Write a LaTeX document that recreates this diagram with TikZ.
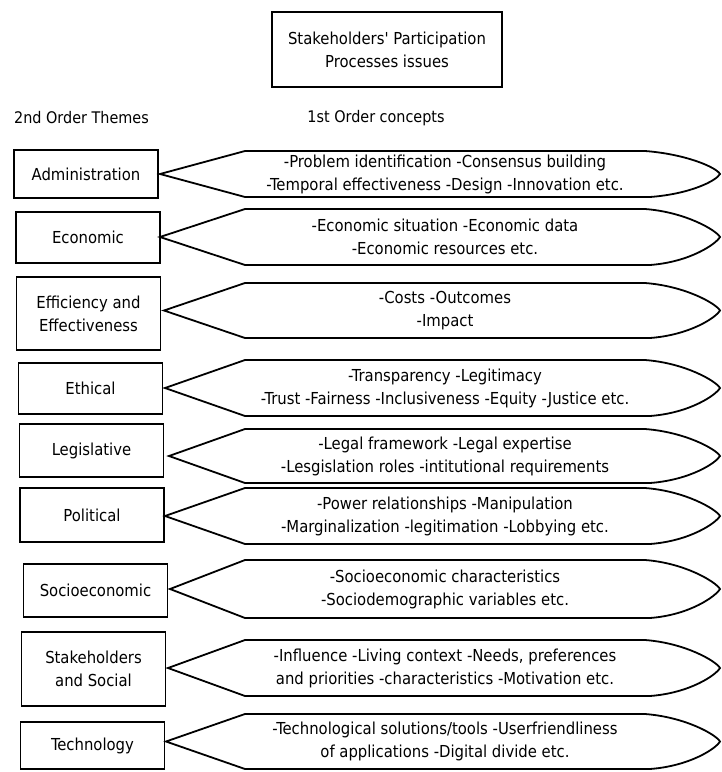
\documentclass[tikz,border=0pt]{standalone}
\usepackage{fontspec}
\setmainfont{DejaVu Sans Condensed}
\usepackage{tikz}

\tikzset{
  themebox/.style={draw, fill=white, rectangle, line width=1.8pt, minimum width=144pt, minimum height=51pt, align=center, inner sep=2pt, font=\fontsize{16.5pt}{23pt}\selectfont},
  conceptline/.style={draw, fill=white, line width=1.8pt, line join=miter},
  concepttext/.style={align=center, inner sep=0pt, font=\fontsize{16.5pt}{23pt}\selectfont},
  plainlabel/.style={inner sep=0pt, font=\fontsize{16pt}{16pt}\selectfont}
}
% #1 node name, #2 tip x, #3 top y, #4 bottom y, #5 text
\newcommand{\conceptshape}[5]{%
  \draw[conceptline] (#2,{(#3+#4)/2}) -- (245,#3) -- (645,#3)
    .. controls (685,#3+3) and (716,{(#3+#4)/2-7}) .. (720,{(#3+#4)/2})
    .. controls (716,{(#3+#4)/2+7}) and (690,#4-3) .. (650,#4) -- (245,#4) -- cycle;%
  \node[concepttext] (#1) at (445,{(#3+#4)/2}) {#5};%
}

\begin{document}
\begin{tikzpicture}[x=1pt, y=-1pt]%
\useasboundingbox[fill=white] (0,0) rectangle (722,772);%
\node[themebox, minimum width=230pt, minimum height=75pt] (title) at (387,49.5) {Stakeholders\textquotesingle{} Participation\\Processes issues};%
\node[plainlabel, anchor=west] (themes) at (14,118) {2nd Order Themes};%
\node[plainlabel] (concepts) at (376,118) {1st Order concepts};%
\node[themebox, minimum height=48pt] (admin) at (86,174) {Administration};%
\conceptshape{admincon}{160}{151}{197}{-Problem identification -Consensus building\\-Temporal effectiveness -Design -Innovation etc.}%
\node[themebox] (econ) at (88,237.5) {Economic};%
\conceptshape{econcon}{160}{209}{265}{-Economic situation -Economic data\\-Economic resources etc.}%
\node[themebox, minimum height=73pt] (effic) at (88.5,313.5) {Efficiency and\\Effectiveness};%
\conceptshape{efficcon}{164}{283}{338}{-Costs -Outcomes\\-Impact}%
\node[themebox] (ethic) at (90.5,388.5) {Ethical};%
\conceptshape{ethiccon}{165}{360}{416}{-Transparency -Legitimacy\\-Trust -Fairness -Inclusiveness -Equity -Justice etc.}%
\node[themebox, minimum height=53pt] (legis) at (91.5,450.5) {Legislative};%
\conceptshape{legiscon}{169}{429}{483}{-Legal framework -Legal expertise\\-Lesgislation roles -intitutional requirements}%
\node[themebox, minimum height=54pt] (polit) at (92,515) {Political};%
\conceptshape{politcon}{165}{488}{544}{-Power relationships -Manipulation\\-Marginalization -legitimation -Lobbying etc.}%
\node[themebox, minimum height=53pt] (socio) at (95.5,590.5) {Socioeconomic};%
\conceptshape{sociocon}{170}{560}{618}{-Socioeconomic characteristics\\-Sociodemographic variables etc.}%
\node[themebox, minimum height=74pt] (stake) at (93.5,669) {Stakeholders\\and Social};%
\conceptshape{stakecon}{168}{640}{696}{-Influence -Living context -Needs, preferences\\and priorities -characteristics -Motivation etc.}%
\node[themebox, minimum height=47pt] (techn) at (92.5,745.5) {Technology};%
\conceptshape{techncon}{166}{714}{769}{-Technological solutions/tools -Userfriendliness\\of applications -Digital divide etc.}%
\end{tikzpicture}
\end{document}
